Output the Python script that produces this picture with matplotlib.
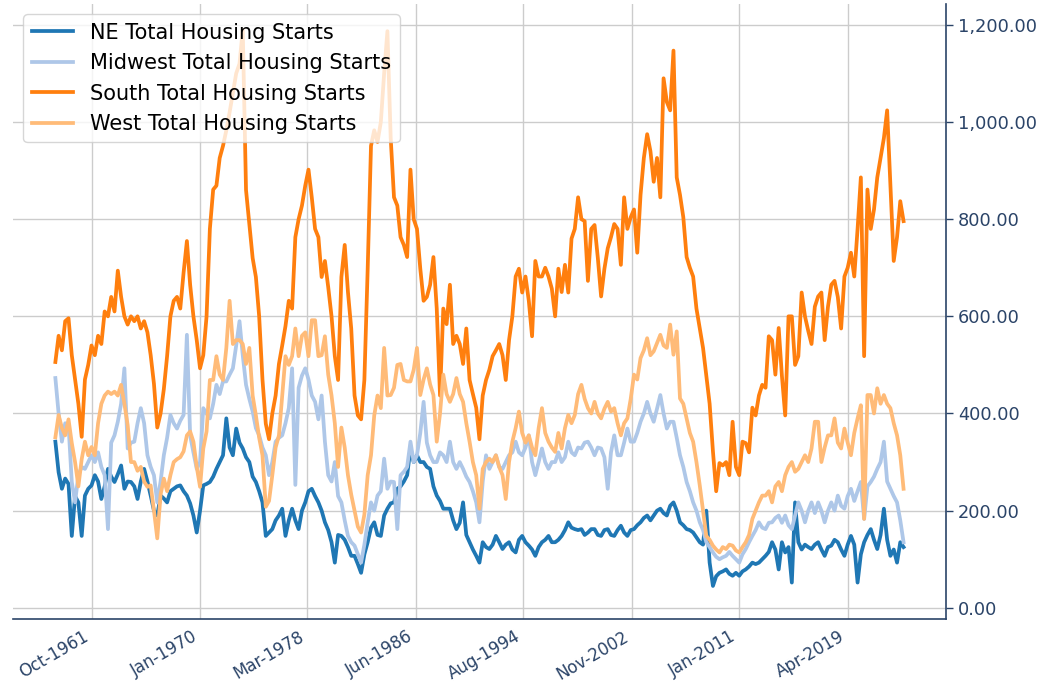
import matplotlib.pyplot as plt
import matplotlib.ticker as mticker
import matplotlib.dates as mdates
import pandas as pd

# Regional housing starts (thousands) at quarterly steps,
# Q1 1959 .. Q3 2023
ne_starts = [
    342, 279, 245, 266, 255, 148, 230, 217, 148, 231, 245, 252, 273, 260, 224, 250,
    286, 270, 259, 275, 293, 245, 260, 259, 250, 224, 260, 286, 260, 231, 200, 190,
    231, 225, 217, 240, 245, 250, 252, 240, 231, 215, 190, 155,
    200, 252, 255, 259, 270, 286, 300, 314, 390, 330, 314, 369, 340, 328, 310, 300,
    270, 259, 240, 217, 148, 155, 162, 180, 190, 204, 148, 180, 204, 180, 162, 200,
    217, 240, 245, 230, 217, 200, 176, 160,
    135, 93, 150, 148, 140, 125, 107, 107, 90, 72, 110, 135, 165, 176, 150, 148,
    190, 204, 215, 217, 245, 250, 260, 273, 328, 300, 314, 300, 300, 290, 286, 250,
    231, 220, 204, 204, 204, 180, 162, 175,
    217, 150, 135, 120, 107, 93, 135, 125, 121, 130, 148, 135, 121, 130, 135, 120,
    114, 140, 148, 135, 128, 120, 107, 125, 135, 140, 148, 135, 135, 140, 148, 160,
    176, 165, 162, 160, 162, 150, 155, 162,
    162, 150, 148, 160, 162, 150, 148, 160, 169, 155, 148, 160, 162, 170, 176, 185,
    190, 180, 190, 200, 204, 195, 190, 210, 217, 200, 176, 170, 162, 160, 155, 145,
    135, 130, 200, 93, 45, 65, 72, 75,
    79, 70, 66, 72, 66, 75, 79, 85, 93, 90, 93, 100, 107, 115, 135, 120,
    79, 135, 114, 125, 52, 217, 135, 120, 130, 125, 121, 130, 135, 120, 107, 125,
    128, 140, 135, 120, 107, 130, 148, 130,
    52, 110, 135, 150, 162, 140, 121, 150, 204, 140, 107, 120, 93, 135, 125,
]

midwest_starts = [
    473, 400, 342, 380, 376, 259, 217, 273, 290, 286, 300, 314, 300, 320, 290, 273,
    162, 340, 355, 383, 420, 493, 328, 340, 342, 380, 411, 380, 314, 290, 273, 217,
    260, 314, 350, 397, 380, 369, 385, 397, 562, 355, 320, 286,
    300, 411, 400, 390, 420, 459, 440, 466, 466, 480, 493, 540, 590, 520, 459, 430,
    404, 370, 355, 330, 314, 273, 300, 342, 350, 355, 380, 411, 493, 253, 453, 478,
    493, 470, 437, 424, 388, 437, 342, 273,
    260, 300, 230, 217, 180, 148, 135, 128, 110, 93, 130, 176, 217, 200, 231, 240,
    307, 245, 260, 259, 162, 273, 280, 290, 342, 300, 314, 360, 424, 340, 314, 300,
    300, 320, 314, 300, 342, 300, 286, 300,
    286, 270, 259, 240, 217, 176, 260, 314, 286, 300, 314, 290, 286, 300, 314, 320,
    342, 320, 314, 330, 355, 300, 273, 300, 328, 300, 286, 300, 300, 320, 300, 310,
    342, 320, 314, 330, 328, 340, 342, 330,
    314, 330, 328, 310, 245, 320, 355, 314, 314, 340, 369, 342, 342, 360, 383, 400,
    424, 400, 383, 410, 438, 400, 369, 383, 383, 350, 314, 290, 259, 240, 217, 200,
    176, 160, 135, 125, 114, 105, 100, 104,
    107, 115, 107, 100, 93, 110, 121, 135, 148, 160, 176, 165, 162, 175, 176, 185,
    190, 175, 190, 170, 162, 190, 217, 200, 176, 200, 217, 195, 217, 200, 176, 200,
    217, 200, 231, 210, 204, 230, 245, 220,
    240, 259, 183, 250, 259, 270, 286, 300, 342, 260, 245, 230, 217, 180, 135,
]

south_starts = [
    506, 560, 530, 590, 596, 520, 470, 420, 352, 470, 500, 540, 520, 560, 543, 610,
    600, 640, 610, 694, 640, 600, 583, 600, 590, 600, 575, 590, 567, 520, 461, 371,
    400, 450, 518, 600, 632, 640, 616, 690, 755, 665, 600, 551,
    493, 520, 600, 780, 861, 869, 926, 951, 983, 1020, 1060, 1100, 1120, 1190, 860, 790,
    720, 681, 600, 470, 379, 347, 400, 437, 502, 540, 580, 632, 616, 763, 800, 828,
    869, 902, 845, 780, 763, 681, 714, 660,
    600, 518, 469, 681, 747, 650, 575, 437, 396, 388, 469, 698, 951, 983, 959, 1000,
    1100, 1187, 967, 845, 828, 763, 747, 722, 902, 800, 780, 698, 632, 640, 665, 722,
    616, 437, 616, 584, 665, 543, 560, 543,
    502, 575, 469, 440, 412, 347, 437, 469, 490, 518, 530, 543, 520, 469, 551, 600,
    682, 698, 649, 682, 632, 559, 714, 682, 682, 700, 682, 657, 600, 698, 650, 706,
    649, 760, 780, 845, 800, 796, 673, 780,
    788, 720, 641, 698, 740, 763, 790, 780, 706, 845, 780, 804, 820, 731, 850, 926,
    975, 940, 877, 926, 845, 1090, 1041, 1024, 1147, 886, 850, 804, 722, 700, 682, 616,
    575, 535, 477, 420, 322, 240, 298, 293,
    300, 273, 383, 290, 273, 342, 339, 320, 412, 396, 437, 459, 453, 559, 551, 480,
    576, 477, 396, 600, 600, 500, 518, 649, 600, 570, 543, 620, 641, 649, 551, 620,
    665, 673, 640, 575, 682, 700, 731, 682,
    780, 886, 518, 861, 780, 820, 886, 926, 967, 1024, 869, 714, 763, 837, 796,
]

west_starts = [
    351, 397, 370, 355, 388, 339, 300, 250, 306, 342, 314, 331, 314, 380, 420, 437,
    445, 440, 445, 437, 459, 420, 376, 300, 300, 282, 290, 260, 249, 252, 200, 143,
    233, 266, 240, 273, 300, 306, 310, 322, 355, 363, 342, 290,
    249, 328, 363, 469, 469, 518, 480, 469, 535, 632, 543, 551, 551, 543, 502, 535,
    437, 396, 350, 314, 208, 220, 273, 330, 355, 437, 518, 500, 518, 575, 518, 560,
    567, 518, 592, 592, 518, 520, 559, 480,
    437, 380, 290, 371, 330, 273, 233, 200, 167, 155, 192, 273, 314, 396, 437, 411,
    535, 437, 438, 453, 500, 502, 469, 466, 466, 490, 535, 438, 470, 493, 460, 438,
    342, 400, 480, 440, 424, 440, 473, 440,
    424, 380, 342, 300, 273, 204, 286, 300, 307, 300, 314, 290, 273, 224, 300, 342,
    370, 404, 360, 340, 355, 330, 314, 370, 411, 360, 342, 330, 321, 360, 328, 370,
    397, 380, 397, 440, 459, 430, 411, 400,
    424, 400, 390, 410, 424, 404, 411, 380, 355, 380, 390, 430, 480, 470, 514, 530,
    555, 520, 528, 545, 562, 540, 535, 583, 521, 569, 431, 420, 390, 360, 342, 300,
    252, 200, 148, 140, 128, 120, 114, 125,
    121, 130, 128, 118, 114, 125, 135, 150, 183, 200, 217, 231, 231, 240, 217, 250,
    259, 240, 273, 290, 300, 280, 286, 300, 314, 300, 328, 383, 383, 300, 330, 355,
    355, 390, 340, 328, 369, 340, 314, 360,
    390, 417, 183, 438, 438, 400, 452, 420, 438, 420, 411, 380, 355, 314, 245,
]

series_labels = [
    "NE Total Housing Starts",
    "Midwest Total Housing Starts",
    "South Total Housing Starts",
    "West Total Housing Starts",
]
series_colors = ["#1f77b4", "#aec7e8", "#ff7f0e", "#ffbb78"]

tick_dates = ["1961-10-01", "1970-01-01", "1978-03-01", "1986-06-01",
              "1994-08-01", "2002-11-01", "2011-01-01", "2019-04-01"]

dates = pd.date_range("1959-01-01", periods=len(ne_starts), freq="QS")
NAVY = "#2b4468"

fig = plt.figure(figsize=(10.54, 6.98), dpi=100)
ax = fig.add_axes([0.0123, 0.1132, 0.8852, 0.8811])

for vals, label, color in zip([ne_starts, midwest_starts, south_starts, west_starts],
                              series_labels, series_colors):
    ax.plot(dates, vals, color=color, linewidth=2.7, label=label)

ax.set_ylim(-23, 1243)
ax.yaxis.tick_right()
ax.yaxis.set_major_locator(mticker.MultipleLocator(200))
ax.yaxis.set_major_formatter(mticker.StrMethodFormatter("{x:,.2f}"))
ax.tick_params(axis="y", colors=NAVY, labelsize=12.8, length=5, width=1)

ax.set_xticks(pd.to_datetime(tick_dates))
ax.xaxis.set_major_formatter(mdates.DateFormatter("%b-%Y"))
ax.tick_params(axis="x", colors=NAVY, labelsize=12, length=0, pad=6)
plt.setp(ax.get_xticklabels(), rotation=30, ha="right")

ax.grid(True, color="#cccccc", linewidth=1)
ax.set_axisbelow(True)
for side in ("left", "top"):
    ax.spines[side].set_visible(False)
for side in ("right", "bottom"):
    ax.spines[side].set_color(NAVY)
    ax.spines[side].set_linewidth(1.2)

ax.legend(loc="upper left", fontsize=15)

fig.savefig("out.png", dpi=100)
